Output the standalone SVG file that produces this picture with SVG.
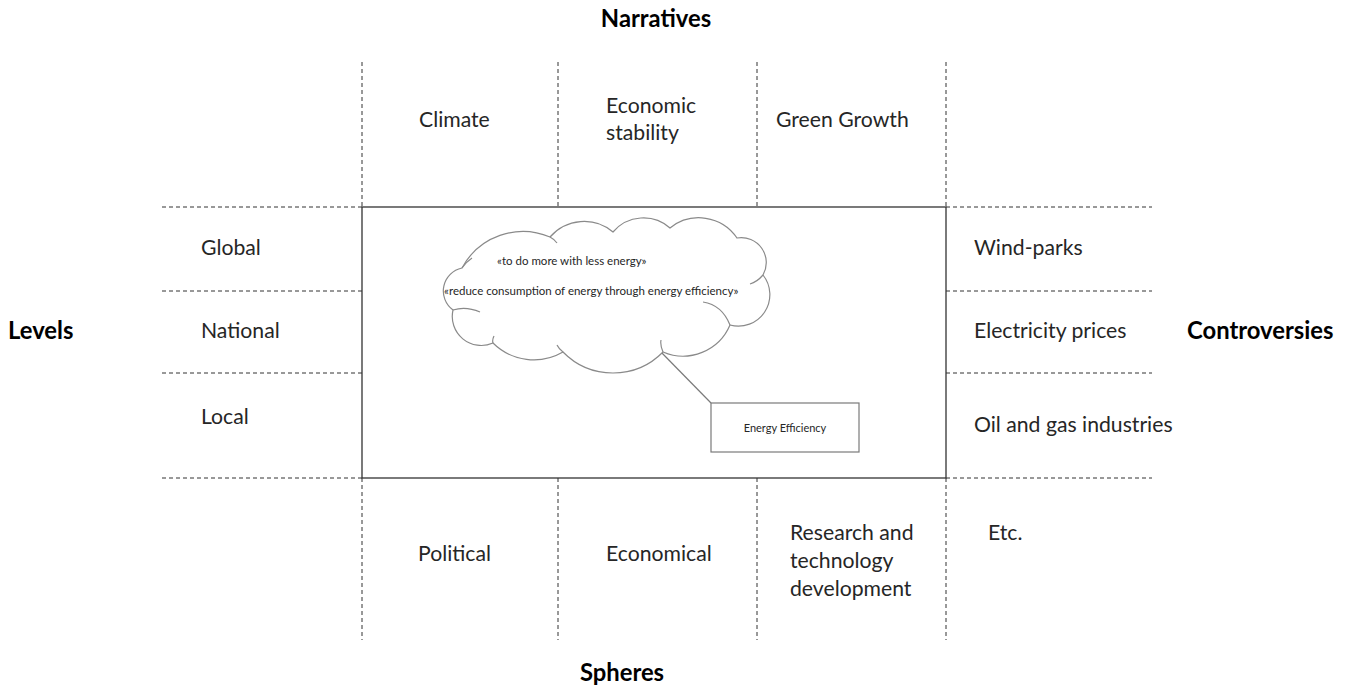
<svg xmlns="http://www.w3.org/2000/svg" width="1349" height="688" viewBox="0 0 1349 688">
<style>
.t{font-family:Lato,"Liberation Sans",sans-serif;font-size:21.2px;fill:#262626}
.b{font-family:Lato,"Liberation Sans",sans-serif;font-size:23.8px;font-weight:bold;fill:#000}
.s{font-family:Lato,"Liberation Sans",sans-serif;font-size:11.5px;fill:#262626}
.d{stroke:#333;stroke-width:1;stroke-dasharray:4 3;fill:none}
.c{stroke:#8a8a8a;stroke-width:1.2;fill:#fff}
</style>
<rect width="1349" height="688" fill="#fff"/>
<g id="grid">
<line class="d" x1="362" y1="62" x2="362" y2="207"/>
<line class="d" x1="558" y1="62" x2="558" y2="207"/>
<line class="d" x1="757" y1="62" x2="757" y2="207"/>
<line class="d" x1="946" y1="62" x2="946" y2="207"/>
<line class="d" x1="362" y1="478" x2="362" y2="640"/>
<line class="d" x1="558" y1="478" x2="558" y2="640"/>
<line class="d" x1="757" y1="478" x2="757" y2="640"/>
<line class="d" x1="946" y1="478" x2="946" y2="640"/>
<line class="d" x1="162" y1="207" x2="362" y2="207"/>
<line class="d" x1="162" y1="291" x2="362" y2="291"/>
<line class="d" x1="162" y1="373" x2="362" y2="373"/>
<line class="d" x1="162" y1="478" x2="362" y2="478"/>
<line class="d" x1="946" y1="207" x2="1152" y2="207"/>
<line class="d" x1="946" y1="291" x2="1152" y2="291"/>
<line class="d" x1="946" y1="373" x2="1152" y2="373"/>
<line class="d" x1="946" y1="478" x2="1152" y2="478"/>
</g>
<g id="main-frame">
<rect x="362" y="207" width="584" height="271" fill="none" stroke="#333" stroke-width="1.3"/>
</g>
<g id="titles">
<text class="b" x="656" y="27" text-anchor="middle">Narratives</text>
<text class="b" x="622" y="681" text-anchor="middle">Spheres</text>
<text class="b" x="8" y="339">Levels</text>
<text class="b" x="1187" y="339">Controversies</text>
</g>
<g id="narratives">
<text class="t" x="419" y="127">Climate</text>
<text class="t" x="606" y="113">Economic</text>
<text class="t" x="606" y="140">stability</text>
<text class="t" x="776" y="127">Green Growth</text>
</g>
<g id="levels">
<text class="t" x="201" y="255">Global</text>
<text class="t" x="201" y="338">National</text>
<text class="t" x="201" y="424">Local</text>
</g>
<g id="controversies">
<text class="t" x="974" y="255">Wind-parks</text>
<text class="t" x="974" y="338">Electricity prices</text>
<text class="t" x="974" y="432">Oil and gas industries</text>
</g>
<g id="spheres">
<text class="t" x="418" y="561">Political</text>
<text class="t" x="606" y="561">Economical</text>
<text class="t" x="790" y="540">Research and</text>
<text class="t" x="790" y="568">technology</text>
<text class="t" x="790" y="596">development</text>
<text class="t" x="988" y="540">Etc.</text>
</g>
<g id="connectors">
<line x1="660" y1="351" x2="711" y2="403" stroke="#7a7a7a" stroke-width="1.2"/>
</g>
<g id="cloud">
<path class="c" d="M453,310 A23.5,23.5 0 0 1 462,268 A69,69 0 0 1 550,237 A45,45 0 0 1 613,232 A40,40 0 0 1 670,228 A46,46 0 0 1 737,238 A25,25 0 0 1 763,275 A31.5,31.5 0 0 1 730,325 A51,51 0 0 1 663,352 A70,70 0 0 1 563,352 A58,58 0 0 1 493,343 A29,29 0 0 1 453,310 Z"/>
<path d="M453,310 Q466,306 480,312 M550,237 Q554,239 557,243 M763,275 Q757,282 750,284 M730,325 Q722,305 703,302 M663,352 Q660,345 661,340 M563,352 Q559,349 557,345 M493,343 Q492,340 494,336 M462,268 Q466,262 472,258" fill="none" stroke="#8a8a8a" stroke-width="1.2"/>
<text class="s" x="497" y="265">«to do more with less energy»</text>
<text class="s" x="444" y="295">«reduce consumption of energy through energy efficiency»</text>
</g>
<g id="energy-efficiency">
<rect x="711" y="403" width="148" height="49" fill="#fff" stroke="#7a7a7a" stroke-width="1.2"/>
<text class="s" x="785" y="432" text-anchor="middle" style="font-size:11px">Energy Efficiency</text>
</g>
</svg>
